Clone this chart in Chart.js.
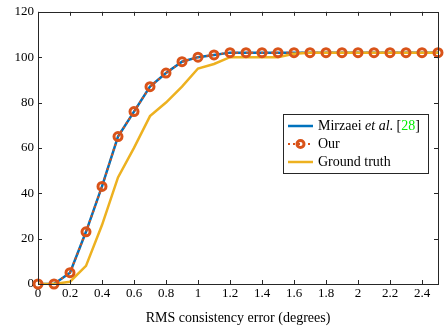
<!DOCTYPE html>
<html>
<head>
<meta charset="utf-8">
<script src="https://cdn.jsdelivr.net/npm/chart.js@4.4.0/dist/chart.umd.min.js"></script>
<style>
  html, body { margin: 0; padding: 0; background: #fff; }
  #wrap { width: 445px; height: 327px; }
</style>
</head>
<body>
<div id="wrap"><canvas id="chart"></canvas></div>
<script>
// x positions (RMS consistency error, degrees)
let xValues = [0, 0.1, 0.2, 0.3, 0.4, 0.5, 0.6, 0.7, 0.8, 0.9, 1.0, 1.1, 1.2,
  1.3, 1.4, 1.5, 1.6, 1.7, 1.8, 1.9, 2.0, 2.1, 2.2, 2.3, 2.4, 2.5];
let mirzaei = [0, 0, 5, 23, 43, 65, 76, 87, 93, 98, 100, 101, 102,
  102, 102, 102, 102, 102, 102, 102, 102, 102, 102, 102, 102, 102];
let our = [0, 0, 5, 23, 43, 65, 76, 87, 93, 98, 100, 101, 102,
  102, 102, 102, 102, 102, 102, 102, 102, 102, 102, 102, 102, 102];
let groundTruth = [0, 0, 1, 8, 26, 47, 60, 74, 80, 87, 95, 97, 100,
  100, 100, 100, 101.5, 102, 102, 102, 102, 102, 102, 102, 102, 102];
let xTicks = [0, 0.2, 0.4, 0.6, 0.8, 1, 1.2, 1.4, 1.6, 1.8, 2, 2.2, 2.4];
let yTicks = [0, 20, 40, 60, 80, 100, 120];

const BLUE = "#0072BD";
const ORANGE = "#D95319";
const YELLOW = "#EDB120";
const INK = "#262626";
const FONT = "'Liberation Serif', 'DejaVu Serif', serif";

function pts(ys) {
  return xValues.map((x, i) => ({ x: x, y: ys[i] }));
}

// frame, inward ticks and legend
const framePlugin = {
  id: "frame",
  afterDraw(chart) {
    const ctx = chart.ctx;
    const a = chart.chartArea;
    const xs = chart.scales.x;
    const ys = chart.scales.y;
    ctx.save();
    ctx.strokeStyle = INK;
    ctx.lineWidth = 1;
    ctx.beginPath();
    xTicks.forEach((t) => {
      let px = Math.round(xs.getPixelForValue(t)) + 0.5;
      ctx.moveTo(px, a.bottom); ctx.lineTo(px, a.bottom - 4);
      ctx.moveTo(px, a.top); ctx.lineTo(px, a.top + 4);
    });
    yTicks.forEach((t) => {
      let py = Math.round(ys.getPixelForValue(t)) + 0.5;
      ctx.moveTo(a.left, py); ctx.lineTo(a.left + 4, py);
      ctx.moveTo(a.right, py); ctx.lineTo(a.right - 4, py);
    });
    ctx.stroke();
    ctx.strokeRect(Math.round(a.left) + 0.5, Math.round(a.top) + 0.5,
      Math.round(a.right - a.left), Math.round(a.bottom - a.top));

    // legend box
    let bx = 283.5, by = 114.5, bw = 145, bh = 59;
    ctx.fillStyle = "#fff";
    ctx.fillRect(bx, by, bw, bh);
    ctx.strokeStyle = INK;
    ctx.strokeRect(bx, by, bw, bh);

    let rows = [126, 144, 162];
    let lx0 = 288, lx1 = 313, tx = 318;
    // Mirzaei
    ctx.lineWidth = 2.5;
    ctx.strokeStyle = BLUE;
    ctx.beginPath(); ctx.moveTo(lx0, rows[0]); ctx.lineTo(lx1, rows[0]); ctx.stroke();
    // Our
    ctx.strokeStyle = ORANGE;
    ctx.lineWidth = 2;
    ctx.setLineDash([2, 3]);
    ctx.beginPath(); ctx.moveTo(lx0, rows[1]); ctx.lineTo(lx1, rows[1]); ctx.stroke();
    ctx.setLineDash([]);
    ctx.lineWidth = 3;
    ctx.beginPath(); ctx.arc((lx0 + lx1) / 2, rows[1], 3.5, 0, Math.PI * 2); ctx.stroke();
    // Ground truth
    ctx.lineWidth = 2.5;
    ctx.strokeStyle = YELLOW;
    ctx.beginPath(); ctx.moveTo(lx0, rows[2]); ctx.lineTo(lx1, rows[2]); ctx.stroke();

    ctx.textBaseline = "middle";
    ctx.textAlign = "left";
    let x = tx;
    let parts = [
      ["Mirzaei ", "normal", "#000"],
      ["et al", "italic", "#000"],
      [". [", "normal", "#000"],
      ["28", "normal", "#00ee00"],
      ["]", "normal", "#000"]
    ];
    parts.forEach((p) => {
      ctx.font = p[1] + " 14px " + FONT;
      ctx.fillStyle = p[2];
      ctx.fillText(p[0], x, rows[0]);
      x += ctx.measureText(p[0]).width;
    });
    ctx.font = "14px " + FONT;
    ctx.fillStyle = "#000";
    ctx.fillText("Our", tx, rows[1]);
    ctx.fillText("Ground truth", tx, rows[2]);
    ctx.restore();
  }
};

let ctx0 = document.getElementById("chart");
let myChart = new Chart(ctx0, {
  type: "line",
  data: {
    datasets: [
      {
        label: "Mirzaei et al. [28]",
        data: pts(mirzaei),
        borderColor: BLUE,
        borderWidth: 2.5,
        pointRadius: 0,
        tension: 0,
        order: 4
      },
      {
        label: "Our",
        data: pts(our),
        borderColor: ORANGE,
        borderWidth: 2,
        borderDash: [2, 3],
        pointRadius: 0,
        tension: 0,
        order: 3
      },
      {
        label: "Ground truth",
        data: pts(groundTruth),
        borderColor: YELLOW,
        borderWidth: 2.5,
        pointRadius: 0,
        tension: 0,
        order: 2
      },
      {
        label: "Our markers",
        data: pts(our),
        showLine: false,
        pointRadius: 4,
        pointBorderWidth: 3,
        pointBorderColor: ORANGE,
        pointBackgroundColor: "rgba(0,0,0,0)",
        clip: false,
        order: 1
      }
    ]
  },
  options: {
    responsive: true,
    maintainAspectRatio: false,
    animation: false,
    events: [],
    layout: { padding: { left: 0, right: 4, top: 5, bottom: 0 } },
    plugins: {
      legend: { display: false },
      tooltip: { enabled: false }
    },
    scales: {
      x: {
        type: "linear",
        min: 0,
        max: 2.5,
        afterBuildTicks: (s) => { s.ticks = xTicks.map((v) => ({ value: v })); },
        afterFit: (s) => { s.height = 43; },
        grid: { display: false, drawTicks: false },
        border: { display: false },
        ticks: {
          color: "#000",
          padding: 2,
          maxRotation: 0,
          font: { family: FONT, size: 13 },
          callback: (v) => String(Math.round(v * 10) / 10)
        },
        title: {
          display: true,
          text: "RMS consistency error (degrees)",
          color: "#000",
          padding: { top: 0, bottom: 0 },
          font: { family: FONT, size: 14 }
        }
      },
      y: {
        type: "linear",
        min: 0,
        max: 120,
        afterBuildTicks: (s) => { s.ticks = yTicks.map((v) => ({ value: v })); },
        afterFit: (s) => { s.width = 38; },
        grid: { display: false, drawTicks: false },
        border: { display: false },
        ticks: {
          color: "#000",
          padding: 4,
          font: { family: FONT, size: 13 }
        }
      }
    }
  },
  plugins: [framePlugin]
});
</script>
</body>
</html>
